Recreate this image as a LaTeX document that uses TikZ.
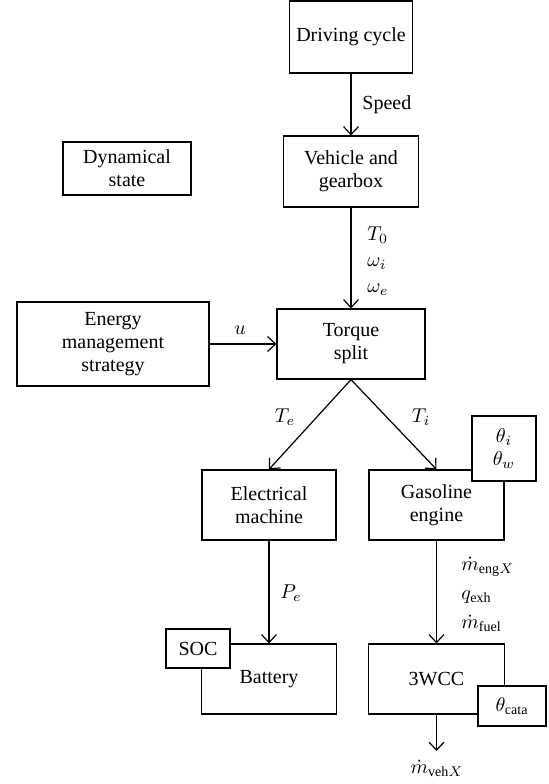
\documentclass[tikz,border=0pt]{standalone}
\usepackage{fontspec}
\setmainfont{Liberation Serif}
\usetikzlibrary{arrows.meta}
\tikzset{
  blockbox/.style={draw,fill=white,line width=0.6pt,inner sep=0pt,
    align=center,font=\fontsize{10}{11.5}\selectfont},
  sigarrow/.style={-{Straight Barb[length=4pt,width=7.5pt]},line width=0.6pt},
  siglabel/.style={inner sep=0pt,align=left,font=\fontsize{10}{13}\selectfont},
}

\begin{document}
\begin{tikzpicture}[x=0.5pt,y=-0.5pt]
    \useasboundingbox (0,0) rectangle (549,784);
    % blocks
    \node[blockbox,minimum width=61.5pt,minimum height=36pt] (drive) at (351,37) {Driving cycle};
    \node[blockbox,minimum width=67.5pt,minimum height=35.5pt] (vehicle) at (351,171.5) {Vehicle and\\gearbox};
    \node[blockbox,minimum width=64pt,minimum height=26.5pt] (dynstate) at (127,168.5) {Dynamical\\state};
    \node[blockbox,minimum width=96pt,minimum height=42pt] (ems) at (113,344) {Energy\\management\\strategy};
    \node[blockbox,minimum width=74pt,minimum height=35pt] (torque) at (351,344) {Torque\\split};
    \node[blockbox,minimum width=67pt,minimum height=35pt] (elec) at (269,505) {Electrical\\machine};
    \node[blockbox,minimum width=67.5pt,minimum height=35pt] (engine) at (436.5,505) {Gasoline\\engine};
    \node[blockbox,minimum width=32pt,minimum height=32.5pt] (engstate) at (504,448.5) {$\theta_i$\\$\theta_w$};
    \node[blockbox,minimum width=67.5pt,minimum height=35pt] (battery) at (269,679) {Battery};
    \node[blockbox,minimum width=32pt,minimum height=19.5pt] (soc) at (198,648.5) {SOC};
    \node[blockbox,minimum width=68pt,minimum height=35pt] (twcc) at (436.5,679) {3WCC};
    \node[blockbox,minimum width=34pt,minimum height=20pt] (catstate) at (512,706) {$\theta_{\mathrm{cata}}$};
    \coordinate (vehout) at (436.5,751);

    % signals
    \draw[sigarrow] (drive) -- (vehicle);
    \draw[sigarrow] (vehicle) -- (torque);
    \draw[sigarrow] (ems) -- (torque);
    \draw[sigarrow] (torque.south) -- (elec.north);
    \draw[sigarrow] (torque.south) -- (engine.north);
    \draw[sigarrow] (elec) -- (battery);
    \draw[sigarrow] (engine) -- (twcc);
    \draw[sigarrow] (twcc) -- (vehout);

    % labels
    \node[siglabel,anchor=west] (speedlbl) at (362,105) {Speed};
    \node[siglabel,anchor=west] (vehlbl) at (367,261) {$T_0$\\$\omega_i$\\$\omega_e$};
    \node[siglabel] (ulbl) at (240,330) {$u$};
    \node[siglabel] (telbl) at (285,417) {$T_e$};
    \node[siglabel] (tilbl) at (421,417) {$T_i$};
    \node[siglabel] (pelbl) at (291,593) {$P_e$};
    \node[siglabel,anchor=west,font=\fontsize{10}{14.5}\selectfont] (englbl) at (461,594)
      {$\dot{m}_{\mathrm{eng}X}$\\$q_{\mathrm{exh}}$\\$\dot{m}_{\mathrm{fuel}}$};
    \node[siglabel] (outlbl) at (437,768) {$\dot{m}_{\mathrm{veh}X}$};
\end{tikzpicture}
\end{document}
